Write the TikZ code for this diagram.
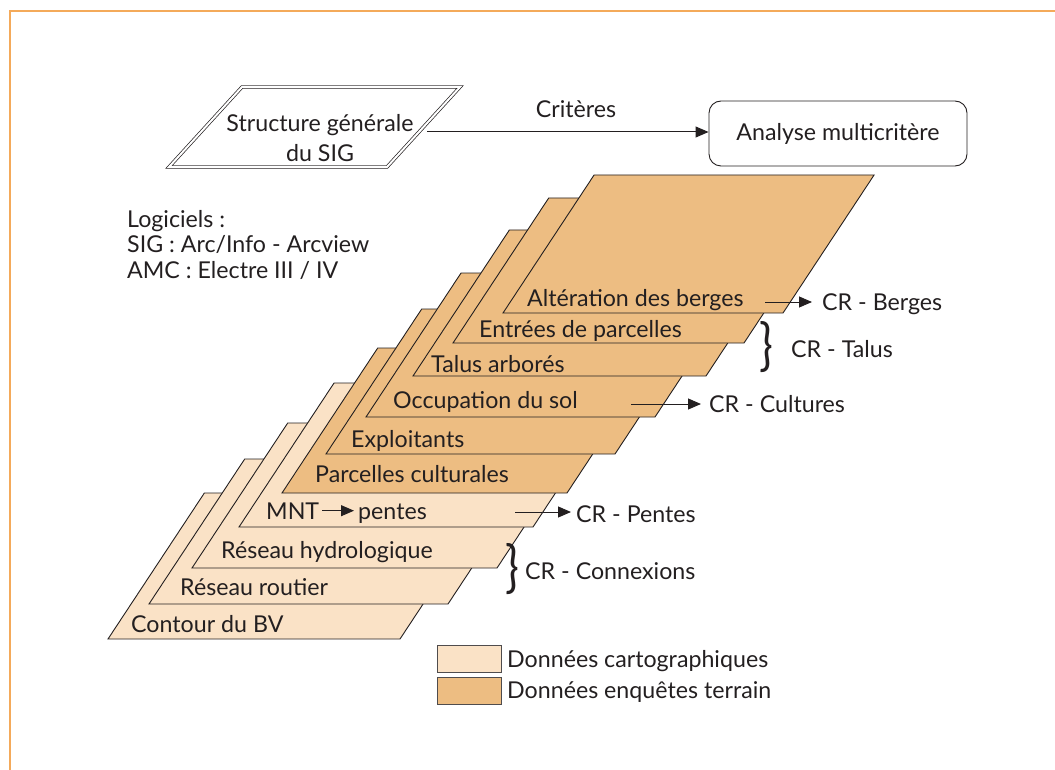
\documentclass[tikz,border=0pt]{standalone}
\usepackage{fontspec}
\setmainfont{Lato}
\usetikzlibrary{arrows.meta,calc}
\definecolor{lightlayer}{RGB}{250,226,198}
\definecolor{darklayer}{RGB}{237,189,130}
\definecolor{frameor}{RGB}{244,170,90}
\definecolor{ink}{RGB}{35,31,32}
\begin{document}
\begin{tikzpicture}[x=1pt,y=-1pt,
  font=\fontsize{23.2}{27}\selectfont, text=ink,
  layer/.style={draw=ink, line width=0.9pt, line join=miter},
  lbl/.style={anchor=base west, inner sep=0pt},
  arr/.style={-{Triangle[length=13pt,width=11pt]}, line width=1pt, draw=ink},
  legbox/.style={draw=ink!80, minimum width=64pt, minimum height=27pt, inner sep=0pt, line width=0.8pt},
  bracenode/.style={inner sep=0pt, font=\fontsize{46}{46}\selectfont}]
\useasboundingbox (0,0) rectangle (1055,770);
\draw[frameor, line width=1.8pt] (10,770) -- (10,11) -- (1055,11);

% layers, bottom of the stack first
\foreach \blx/\by/\brx/\ty/\c in {
  108/639/400/493/lightlayer,
  149/604/448/459/lightlayer,
  192/568/497/423/lightlayer,
  239/527/533/383/lightlayer,
  282/493/567/348/darklayer,
  326/454/615/309/darklayer,
  366/417/655/273/darklayer,
  413/376/706/230/darklayer,
  453/343/744/198/darklayer,
  503/313/783/175/darklayer} {
  \pgfmathsetmacro\dx{0.66*(\by-\ty)}
  \filldraw[layer, fill=\c] (\blx,\by) -- (\brx,\by) -- (\brx+\dx,\ty) -- (\blx+\dx,\ty) -- cycle;
}

% layer labels
\node[lbl] (contour) at (131,632) {Contour du BV};
\node[lbl] (routier) at (180,595) {Réseau routier};
\node[lbl] (hydro) at (221,558) {Réseau hydrologique};
\node[lbl] (mnt) at (266,519) {MNT};
\node[lbl] (pentes) at (358,519) {pentes};
\draw[arr, shorten <=3pt, shorten >=4pt] (mnt.east) -- (mnt.east -| pentes.west);
\node[lbl] (parc) at (315,482) {Parcelles culturales};
\node[lbl] (expl) at (351,447) {Exploitants};
\node[lbl] (occ) at (393,408) {Occupation du sol};
\node[lbl] (talus) at (431,372) {Talus arborés};
\node[lbl] (entr) at (479,337) {Entrées de parcelles};
\node[lbl] (alter) at (527,306) {Altération des berges};

% right-hand results
\node[lbl] (crb) at (822,310) {CR - Berges};
\coordinate (cbs) at (765,302);
\draw[arr, shorten >=10pt] (cbs) -- (cbs -| crb.west);
\node[bracenode] (bt) at (766,347) {\scalebox{1}[1.22]{\}}};
\node[lbl] (crt) at (791,357) {CR - Talus};
\node[lbl] (crc) at (709,412) {CR - Cultures};
\coordinate (ccs) at (631,404);
\draw[arr, shorten >=8pt] (ccs) -- (ccs -| crc.west);
\node[lbl] (crp) at (576,522) {CR - Pentes};
\coordinate (cps) at (515,512);
\draw[arr, shorten >=5pt] (cps) -- (cps -| crp.west);
\node[bracenode] (bx) at (512,569) {\scalebox{1}[1.22]{\}}};
\node[lbl] (crx) at (525,579) {CR - Connexions};

% top part
\draw[ink, double=white, double distance=2pt, line width=0.7pt] (242,87) -- (460,87) -- (387,167) -- (169,167) -- cycle;
\node[align=center, inner sep=0pt] (sig) at (320,138) {Structure générale\\[3pt]du SIG};
\coordinate (sigout) at (427,132);
\node[draw=ink, rounded corners=12pt, minimum width=258pt, minimum height=65pt, line width=0.9pt] (amc) at (838,133.5) {Analyse multicritère};
\draw[arr] (sigout) -- (sigout -| amc.west);
\node[anchor=base, inner sep=0pt] (crit) at (576,118) {Critères};

% software
\node[lbl] (logi1) at (127,228) {Logiciels :};
\node[lbl] (logi2) at (127,253) {SIG : Arc/Info - Arcview};
\node[lbl] (logi3) at (127,278) {AMC : Electre III / IV};

% legend
\node[legbox, fill=lightlayer] (leg1) at (469,658.5) {};
\node[legbox, fill=darklayer] (leg2) at (469,691) {};
\node[lbl] (legt1) at (507,667) {Données cartographiques};
\node[lbl] (legt2) at (507,698) {Données enquêtes terrain};
\end{tikzpicture}
\end{document}
